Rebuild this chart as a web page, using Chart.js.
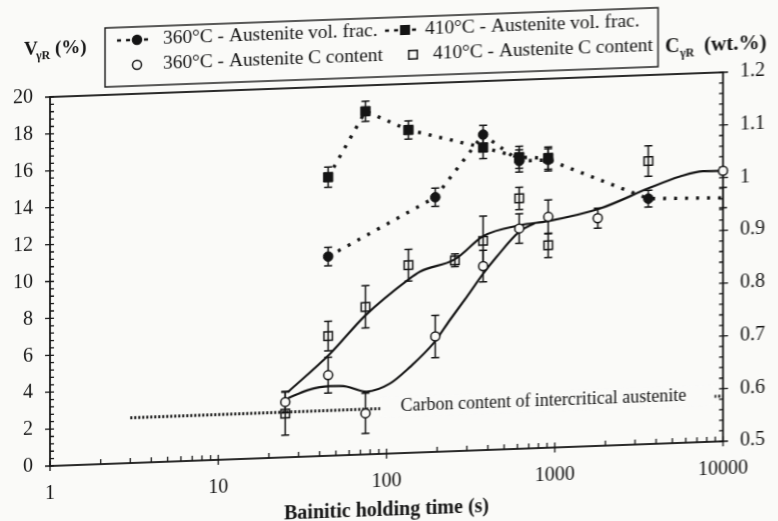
<!DOCTYPE html>
<html>
<head>
<meta charset="utf-8">
<title>Retained austenite vs bainitic holding time</title>
<script src="https://cdn.jsdelivr.net/npm/chart.js@4.4.1/dist/chart.umd.min.js"></script>
<style>
  html, body { margin: 0; padding: 0; width: 778px; height: 521px; overflow: hidden; background: #fafaf8; }
  /* the printed figure sits slightly tilted on the page */
  #wrap { position: absolute; left: 0; top: 0; width: 778px; height: 545px;
          transform: skewY(-2.1deg); transform-origin: 50px 466px; }
</style>
</head>
<body>
<div id="wrap"><canvas id="austeniteChart"></canvas></div>
<script>
// retained austenite volume fraction (%) vs bainitic holding time (s)
const vol360Times = [45, 195, 375, 615, 915, 3600, 10000];
const vol360Values = [10.8, 13.8, 17.1, 15.6, 15.6, 13.3, 13.2];
const vol360Errors = [0.5, 0.5, 0.5, 0.6, 0.6, 0.45, 0.55];

const vol410Times = [45, 75, 135, 375, 615, 915];
const vol410Values = [15.1, 18.6, 17.5, 16.4, 15.8, 15.7];
const vol410Errors = [0.55, 0.55, 0.5, 0.6, 0.6, 0.6];

// carbon content of retained austenite (wt.%)
const carbon360Times = [25, 45, 75, 195, 375, 615, 915, 1800, 10000];
const carbon360Values = [0.605, 0.653, 0.578, 0.719, 0.849, 0.918, 0.938, 0.932, 1.013];
const carbon360Errors = [0.02, 0.034, 0.038, 0.04, 0.03, 0.028, 0.032, 0.019, 0];

const carbon410Times = [25, 45, 75, 135, 255, 375, 615, 915, 3600];
const carbon410Values = [0.583, 0.727, 0.780, 0.856, 0.862, 0.897, 0.975, 0.884, 1.037];
const carbon410Errors = [0.041, 0.028, 0.04, 0.03, 0.012, 0.047, 0.021, 0.023, 0.029];

// smooth trend curves drawn through the carbon data
const trendUpperTimes = [26, 46, 75, 135, 158, 255, 376, 620, 915, 1850, 3600, 5500, 7600, 10000];
const trendUpperValues = [0.624, 0.693, 0.764, 0.829, 0.843, 0.864, 0.906, 0.924, 0.930, 0.950, 0.985, 1.005, 1.014, 1.013];
const trendLowerTimes = [26, 34, 46, 58, 76, 105, 138, 190, 238, 300, 376, 452, 615, 760];
const trendLowerValues = [0.612, 0.626, 0.632, 0.630, 0.619, 0.633, 0.663, 0.706, 0.749, 0.792, 0.835, 0.866, 0.912, 0.927];

// carbon content of the intercritical austenite
const intercriticalTimes = [3, 10000];
const intercriticalCarbon = [0.586, 0.586];

const timeTicks = [1, 10, 100, 1000, 10000];
const volTicks = [0, 2, 4, 6, 8, 10, 12, 14, 16, 18, 20];
const carbonTicks = [0.5, 0.6, 0.7, 0.8, 0.9, 1, 1.1, 1.2];

const ink = '#141414';
const paper = '#fafaf8';

Chart.defaults.font.family = "'Liberation Serif', 'DejaVu Serif', serif";
Chart.defaults.color = ink;

function points(times, values) {
  return times.map((t, i) => ({ x: t, y: values[i] }));
}

function drawMarker(ctx, style, x, y, filled) {
  ctx.beginPath();
  if (style === 'rect') {
    ctx.rect(x - 4.3, y - 4.3, 8.6, 8.6);
  } else {
    ctx.arc(x, y, 4.5, 0, Math.PI * 2);
  }
  ctx.fillStyle = filled ? ink : paper;
  ctx.fill();
  ctx.lineWidth = 1.5;
  ctx.strokeStyle = ink;
  ctx.stroke();
}

// frame plus the major / minor tick marks of the three axes
const axisMarks = {
  id: 'axisMarks',
  beforeDatasetsDraw(chart) {
    const { ctx, chartArea: a, scales } = chart;
    ctx.save();
    ctx.strokeStyle = ink;
    ctx.lineWidth = 1.8;
    ctx.strokeRect(a.left, a.top, a.right - a.left, a.bottom - a.top);
    ctx.lineWidth = 1.3;
    ctx.beginPath();
    for (let i = 0; i <= 50; i++) {
      const y = scales.yVol.getPixelForValue(i * 0.4);
      const major = i % 5 === 0;
      ctx.moveTo(a.left - (major ? 5 : 0), y);
      ctx.lineTo(a.left + 4, y);
    }
    for (let i = 0; i <= 35; i++) {
      const y = scales.yC.getPixelForValue(0.5 + i * 0.02);
      const major = i % 5 === 0;
      ctx.moveTo(a.right - 4, y);
      ctx.lineTo(a.right + (major ? 5 : 0), y);
    }
    for (let d = 0; d < 4; d++) {
      for (let k = 1; k <= 9; k++) {
        const x = scales.x.getPixelForValue(k * Math.pow(10, d));
        ctx.moveTo(x, a.bottom - 5);
        ctx.lineTo(x, a.bottom + (k === 1 ? 5 : 0));
      }
    }
    const xEnd = scales.x.getPixelForValue(10000);
    ctx.moveTo(xEnd, a.bottom - 5);
    ctx.lineTo(xEnd, a.bottom + 5);
    ctx.stroke();
    ctx.restore();
  }
};

// vertical error bars with short caps, under the markers
const errorBars = {
  id: 'errorBars',
  beforeDatasetsDraw(chart) {
    const { ctx } = chart;
    ctx.save();
    ctx.strokeStyle = ink;
    ctx.lineWidth = 1.5;
    chart.data.datasets.forEach((ds, di) => {
      if (!ds.errorBars) return;
      const meta = chart.getDatasetMeta(di);
      const yScale = chart.scales[ds.yAxisID];
      ds.data.forEach((p, i) => {
        const err = ds.errorBars[i];
        if (!err) return;
        const x = meta.data[i].x;
        const top = yScale.getPixelForValue(p.y + err);
        const bottom = yScale.getPixelForValue(p.y - err);
        ctx.beginPath();
        ctx.moveTo(x, top);
        ctx.lineTo(x, bottom);
        ctx.moveTo(x - 4, top);
        ctx.lineTo(x + 4, top);
        ctx.moveTo(x - 4, bottom);
        ctx.lineTo(x + 4, bottom);
        ctx.stroke();
      });
    });
    ctx.restore();
  }
};

// label sitting on the intercritical carbon line
const intercriticalLabel = {
  id: 'intercriticalLabel',
  afterDatasetsDraw(chart) {
    const { ctx, scales } = chart;
    const y = scales.yC.getPixelForValue(intercriticalCarbon[1]);
    const x0 = scales.x.getPixelForValue(92);
    const x1 = scales.x.getPixelForValue(8900);
    ctx.save();
    ctx.fillStyle = paper;
    ctx.fillRect(x0, y - 11, x1 - x0, 20);
    ctx.fillStyle = ink;
    ctx.font = "18px 'Liberation Serif'";
    ctx.textBaseline = 'middle';
    ctx.fillText('Carbon content of intercritical austenite', x0 + 20, y - 1);
    ctx.restore();
  }
};

// boxed legend in two columns and the axis titles
const legendAndTitles = {
  id: 'legendAndTitles',
  afterDraw(chart) {
    const { ctx, chartArea: a } = chart;
    const ds = chart.data.datasets;
    ctx.save();
    ctx.strokeStyle = ink;
    ctx.lineWidth = 1.4;
    ctx.strokeRect(105, 30, 553, 59);

    const slots = [
      { i: 0, cx: 137, tx: 163, y: 43, dashed: true },
      { i: 1, cx: 405, tx: 425, y: 43, dashed: true },
      { i: 2, cx: 137, tx: 163, y: 68, dashed: false },
      { i: 3, cx: 413, tx: 433, y: 68, dashed: false }
    ];
    ctx.font = "19.4px 'Liberation Serif'";
    ctx.textBaseline = 'middle';
    slots.forEach(s => {
      const d = ds[s.i];
      if (s.dashed) {
        ctx.save();
        ctx.setLineDash([4, 5]);
        ctx.lineWidth = 2.5;
        ctx.beginPath();
        ctx.moveTo(s.cx - 20, s.y);
        ctx.lineTo(s.cx + 14, s.y);
        ctx.stroke();
        ctx.restore();
      }
      drawMarker(ctx, d.pointStyle, s.cx, s.y, d.pointBackgroundColor === ink);
      ctx.fillStyle = ink;
      ctx.fillText(d.label, s.tx, s.y);
    });

    // left axis title  V_γR (%)
    ctx.textBaseline = 'alphabetic';
    ctx.font = "bold 19px 'Liberation Serif'";
    ctx.fillText('V', 24, 54);
    ctx.font = "bold 12px 'Liberation Serif'";
    ctx.fillText('γR', 36, 59);
    ctx.font = "bold 19px 'Liberation Serif'";
    ctx.fillText('(%)', 55, 54);

    // right axis title  C_γR (wt.%)
    ctx.font = "bold 20px 'Liberation Serif'";
    ctx.fillText('C', 665, 75);
    ctx.font = "bold 12px 'Liberation Serif'";
    ctx.fillText('γR', 680, 80);
    ctx.font = "bold 21px 'Liberation Serif'";
    ctx.fillText('(wt.%)', 704, 75);

    // bottom axis title
    ctx.font = "bold 20px 'Liberation Serif'";
    ctx.textAlign = 'center';
    ctx.textBaseline = 'middle';
    ctx.fillText('Bainitic holding time (s)', (a.left + a.right) / 2, a.bottom + 57);
    ctx.restore();
  }
};

const ctx = document.getElementById('austeniteChart').getContext('2d');
new Chart(ctx, {
  type: 'line',
  data: {
    datasets: [
      {
        label: '360°C - Austenite vol. frac.',
        data: points(vol360Times, vol360Values),
        errorBars: vol360Errors,
        yAxisID: 'yVol',
        borderColor: ink, borderWidth: 3.4, borderDash: [3, 8],
        pointStyle: 'circle',
        pointRadius: c => (c.dataIndex === vol360Times.length - 1 ? 0 : 4.8),
        pointBackgroundColor: ink, pointBorderColor: ink, pointBorderWidth: 1,
        clip: false
      },
      {
        label: '410°C - Austenite vol. frac.',
        data: points(vol410Times, vol410Values),
        errorBars: vol410Errors,
        yAxisID: 'yVol',
        borderColor: ink, borderWidth: 3.4, borderDash: [3, 8],
        pointStyle: 'rect', pointRadius: 6.6,
        pointBackgroundColor: ink, pointBorderColor: ink, pointBorderWidth: 1,
        clip: false
      },
      {
        label: '360°C - Austenite C content',
        data: points(carbon360Times, carbon360Values),
        errorBars: carbon360Errors,
        yAxisID: 'yC',
        showLine: false,
        pointStyle: 'circle', pointRadius: 4.5,
        pointBackgroundColor: paper, pointBorderColor: ink, pointBorderWidth: 1.5,
        clip: false
      },
      {
        label: '410°C - Austenite C content',
        data: points(carbon410Times, carbon410Values),
        errorBars: carbon410Errors,
        yAxisID: 'yC',
        showLine: false,
        pointStyle: 'rect', pointRadius: 6,
        pointBackgroundColor: 'rgba(0,0,0,0)', pointBorderColor: ink, pointBorderWidth: 1.5,
        clip: false
      },
      {
        label: 'trend upper',
        data: points(trendUpperTimes, trendUpperValues),
        yAxisID: 'yC',
        borderColor: ink, borderWidth: 2.2,
        cubicInterpolationMode: 'monotone',
        pointRadius: 0
      },
      {
        label: 'trend lower',
        data: points(trendLowerTimes, trendLowerValues),
        yAxisID: 'yC',
        borderColor: ink, borderWidth: 2.2,
        cubicInterpolationMode: 'monotone',
        pointRadius: 0
      },
      {
        label: 'intercritical',
        data: points(intercriticalTimes, intercriticalCarbon),
        yAxisID: 'yC',
        borderColor: ink, borderWidth: 3, borderDash: [2, 2],
        pointRadius: 0
      }
    ]
  },
  options: {
    responsive: true,
    maintainAspectRatio: false,
    animation: false,
    layout: { padding: { top: 97, left: 0, right: 0, bottom: 0 } },
    plugins: { legend: { display: false }, tooltip: { enabled: false } },
    scales: {
      x: {
        type: 'logarithmic', min: 1, max: 10000,
        grid: { display: false, drawTicks: false }, border: { display: false },
        afterBuildTicks: s => { s.ticks = timeTicks.map(v => ({ value: v })); },
        afterFit: s => { s.height = 79; },
        ticks: { callback: v => String(v), font: { size: 20 }, padding: 16, maxRotation: 0, autoSkip: false }
      },
      yVol: {
        position: 'left', min: 0, max: 20,
        grid: { display: false, drawTicks: false }, border: { display: false },
        afterBuildTicks: s => { s.ticks = volTicks.map(v => ({ value: v })); },
        afterFit: s => { s.width = 50; },
        ticks: { callback: v => String(v), font: { size: 20 }, padding: 17 }
      },
      yC: {
        position: 'right', min: 0.5, max: 1.2,
        grid: { display: false, drawTicks: false }, border: { display: false },
        afterBuildTicks: s => { s.ticks = carbonTicks.map(v => ({ value: v })); },
        afterFit: s => { s.width = 55; },
        ticks: { callback: v => String(v), font: { size: 20 }, padding: 17 }
      }
    }
  },
  plugins: [axisMarks, errorBars, intercriticalLabel, legendAndTitles]
});
</script>
</body>
</html>
